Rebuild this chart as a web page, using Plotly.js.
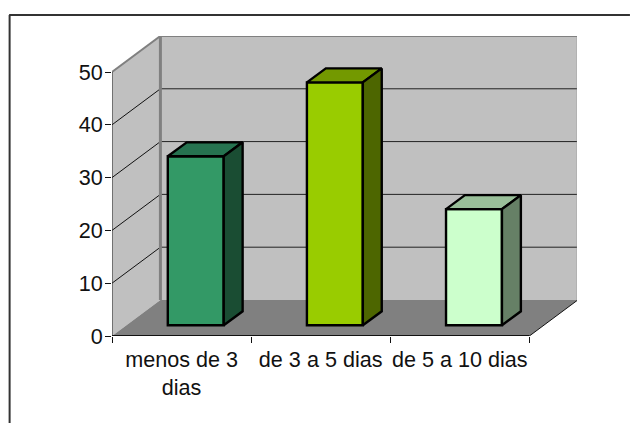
<!DOCTYPE html>
<html>
<head>
<meta charset="utf-8">
<script src="https://cdn.plot.ly/plotly-3.0.1.min.js"></script>
<style>html,body{margin:0;padding:0;background:#fff}#chart{width:630px;height:423px}</style>
</head>
<body>
<div id="chart"></div>
<script>
// Duration groups and their values
const categories = ['menos de 3<br>dias', 'de 3 a 5 dias', 'de 5 a 10 dias'];
const values = [32, 46, 22];
const frontColors = ['#339966', '#99cc00', '#ccffcc'];
const topColors = ['#267350', '#739900', '#99bf99'];
const sideColors = ['#1a4d33', '#4d6600', '#668066'];
const yTicks = [0, 10, 20, 30, 40, 50];

// Oblique projection, in axis units
const depthX = 0.348, depthY = 6.82;     // full depth of the box
const barDepthX = 0.136, barDepthY = 2.65; // depth of each bar
const barInsetX = 0.102, barBase = 2.03;  // where a bar stands on the floor
const barWidth = 0.402;
const barEdge = 2.4;
const nCat = categories.length;
const yMax = yTicks[yTicks.length - 1];

// Plot area in pixels
const plotL = 111.5, plotT = 36, plotW = 465.5, plotH = 300;

function path(pts) {
  return 'M' + pts.map(p => p[0] + ',' + p[1]).join('L') + 'Z';
}
function polyShape(pts, fill) {
  return {type: 'path', xref: 'x', yref: 'y', layer: 'below', path: path(pts),
          fillcolor: fill, line: {width: 0}};
}
function lineShape(x0, y0, x1, y1, color, width) {
  return {type: 'line', xref: 'x', yref: 'y', layer: 'below', x0, y0, x1, y1,
          line: {color, width}};
}
function frameLine(px0, py0, px1, py1) {
  return {type: 'line', xref: 'paper', yref: 'paper', layer: 'below',
          x0: (px0 - plotL) / plotW, x1: (px1 - plotL) / plotW,
          y0: 1 - (py0 - plotT) / plotH, y1: 1 - (py1 - plotT) / plotH,
          line: {color: '#333333', width: 2}};
}

const shapes = [
  // chart frame: top and left edges
  frameLine(8.5, 15, 630, 15),
  frameLine(9, 15, 9, 423),
  // side wall, back wall, floor
  polyShape([[0, 0], [depthX, depthY], [depthX, yMax + depthY], [0, yMax]], '#c0c0c0'),
  polyShape([[depthX, depthY], [nCat + depthX, depthY], [nCat + depthX, yMax + depthY], [depthX, yMax + depthY]], '#c0c0c0'),
  polyShape([[0, 0], [depthX, depthY], [nCat + depthX, depthY], [nCat, 0]], '#808080')
];
// gridlines run along the side wall and across the back wall
yTicks.slice(1, -1).forEach(v => {
  shapes.push(lineShape(0, v, depthX, v + depthY, '#111111', 1));
  shapes.push(lineShape(depthX, v + depthY, nCat + depthX, v + depthY, '#222222', 1));
});
// wall edges and axis lines
shapes.push(
  lineShape(0, yMax, depthX, yMax + depthY, '#808080', 2),
  lineShape(depthX, depthY, depthX, yMax + depthY, '#808080', 3),
  lineShape(depthX, yMax + depthY, nCat + depthX, yMax + depthY, '#808080', 2),
  lineShape(nCat + depthX, depthY, nCat + depthX, yMax + depthY, '#808080', 2),
  lineShape(nCat, 0, nCat + depthX, depthY, '#111111', 1),
  lineShape(0, 0, 0, yMax, '#222222', 1),
  lineShape(0, 0, nCat, 0, '#111111', 2)
);

const centers = categories.map((_, i) => i + 0.5 + barInsetX);
const traces = [{
  type: 'bar',
  x: centers,
  y: values,
  base: values.map(() => barBase),
  width: barWidth,
  marker: {color: frontColors, line: {color: '#000000', width: barEdge}},
  hoverinfo: 'skip'
}];

// top and side faces of each bar
values.forEach((v, i) => {
  const l = centers[i] - barWidth / 2, r = centers[i] + barWidth / 2;
  const t = v + barBase;
  const top = [[l, t], [l + barDepthX, t + barDepthY], [r + barDepthX, t + barDepthY], [r, t], [l, t]];
  const side = [[r, barBase], [r + barDepthX, barBase + barDepthY], [r + barDepthX, t + barDepthY], [r, t], [r, barBase]];
  [[top, topColors[i]], [side, sideColors[i]]].forEach(([pts, col]) => {
    traces.push({
      type: 'scatter', mode: 'lines', fill: 'toself', fillcolor: col,
      x: pts.map(p => p[0]), y: pts.map(p => p[1]),
      line: {color: '#000000', width: barEdge}, hoverinfo: 'skip'
    });
  });
});

const layout = {
  width: 630, height: 423,
  margin: {l: plotL, r: 630 - plotL - plotW, t: plotT, b: 423 - plotT - plotH, pad: 0},
  paper_bgcolor: '#ffffff', plot_bgcolor: 'rgba(0,0,0,0)',
  showlegend: false,
  font: {family: '"Liberation Sans", Arial, sans-serif', size: 21.6, color: '#111111'},
  xaxis: {
    range: [0, plotW / 139.27], fixedrange: true, showgrid: false, zeroline: false,
    showline: false, tickmode: 'array',
    tickvals: categories.map((_, i) => i + 0.5), ticktext: categories, ticks: '', tickangle: 0,
    ticklabelstandoff: 8,
    minor: {tickmode: 'array', tickvals: [0, 1, 2, 3], ticks: 'outside', ticklen: 6, tickcolor: '#111111', tickwidth: 1, showgrid: false}
  },
  yaxis: {
    range: [0, plotH / 5.28], fixedrange: true, showgrid: false, zeroline: false,
    showline: false, tickmode: 'array', tickvals: yTicks, ticks: 'outside', ticklen: 6,
    tickcolor: '#111111', tickwidth: 1, ticklabelstandoff: -2
  },
  shapes: shapes
};

Plotly.newPlot('chart', traces, layout, {displayModeBar: false, staticPlot: true});
</script>
</body>
</html>
